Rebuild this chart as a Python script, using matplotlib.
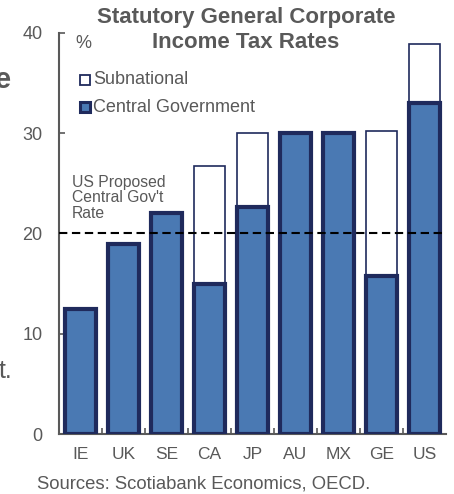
import matplotlib
matplotlib.use("Agg")
import matplotlib.pyplot as plt
import numpy as np

plt.rcParams['font.family'] = ['Liberation Sans', 'DejaVu Sans']

countries = ["IE", "UK", "SE", "CA", "JP", "AU", "MX", "GE", "US"]
central = [12.5, 19.0, 22.0, 15.0, 22.6, 30.0, 30.0, 15.8, 33.0]
combined = [12.5, 19.0, 22.0, 26.7, 30.0, 30.0, 30.0, 30.2, 38.9]
subnational = [c - g for c, g in zip(combined, central)]
us_proposed = 20.0
yticks = [0, 10, 20, 30, 40]

GRAY = "#595959"
NAVY = "#1f2a5c"
BLUE = "#4a79b3"

W, H = 454, 494
fig = plt.figure(figsize=(W / 100, H / 100), dpi=100)
ax = fig.add_axes([59 / W, (H - 434) / H, (446 - 59) / W, (434 - 33) / H])

x = np.arange(len(countries))
ax.bar(x, central, width=0.74, color=BLUE, edgecolor=NAVY, linewidth=3.0,
       zorder=3, label="Central Government")
ax.bar(x, subnational, bottom=central, width=0.74, color="white",
       edgecolor=NAVY, linewidth=1.2, zorder=2, label="Subnational")

ax.axhline(us_proposed, color="black", linestyle=(0, (4, 2.2)), linewidth=1.5, zorder=4)

ax.set_xlim(-0.5, len(countries) - 0.5)
ax.set_ylim(0, 40)
ax.set_yticks(yticks)
ax.set_xticks(x)
ax.set_xticklabels(countries)
ax.set_xticks(np.arange(0.5, len(countries) - 1, 1.0), minor=True)

for side in ("top", "right"):
    ax.spines[side].set_visible(False)
for side in ("left", "bottom"):
    ax.spines[side].set_color(GRAY)
    ax.spines[side].set_linewidth(1.5)

ax.tick_params(axis="y", direction="in", length=4, width=1.2, color=GRAY,
               labelcolor=GRAY, labelsize=13, pad=12)
ax.tick_params(axis="x", which="major", length=0, labelcolor=GRAY,
               labelsize=12.5, pad=9)
ax.tick_params(axis="x", which="minor", direction="in", length=4, width=1.2,
               color=GRAY)

# title and annotations
fig.text(246 / W, 1 - 17 / H, "Statutory General Corporate",
         ha="center", va="center", fontsize=16, fontweight="bold", color=GRAY)
fig.text(246 / W, 1 - 43 / H, "Income Tax Rates",
         ha="center", va="center", fontsize=16, fontweight="bold", color=GRAY)
fig.text(75 / W, 1 - 44 / H, "%", ha="left", va="center", fontsize=13, color=GRAY)
fig.text(72 / W, 1 - 198 / H, "US Proposed\nCentral Gov't\nRate", ha="left",
         va="center", fontsize=11.3, color=GRAY, linespacing=1.0)

# legend drawn as square markers with labels
fig.lines.append(plt.Line2D([85 / W], [1 - 80 / H], marker="s", markersize=7.5,
                            markerfacecolor="white", markeredgecolor=NAVY,
                            markeredgewidth=1.3, transform=fig.transFigure))
fig.lines.append(plt.Line2D([85 / W], [1 - 107 / H], marker="s", markersize=7.5,
                            markerfacecolor=BLUE, markeredgecolor=NAVY,
                            markeredgewidth=2.2, transform=fig.transFigure))
fig.text(93 / W, 1 - 80 / H, "Subnational", ha="left", va="center",
         fontsize=13, color=GRAY)
fig.text(93 / W, 1 - 107 / H, "Central Government", ha="left", va="center",
         fontsize=13, color=GRAY)

fig.text(37 / W, 1 - 484 / H, "Sources: Scotiabank Economics, OECD.",
         ha="left", va="center", fontsize=13.3, color=GRAY)

# edges of neighbouring page text
fig.text(11 / W, 1 - 80 / H, "e", ha="right", va="center", fontsize=21,
         fontweight="bold", color=GRAY)
fig.text(12 / W, 1 - 371 / H, "t.", ha="right", va="center", fontsize=18,
         color=GRAY)

fig.savefig("out.png", dpi=100)
